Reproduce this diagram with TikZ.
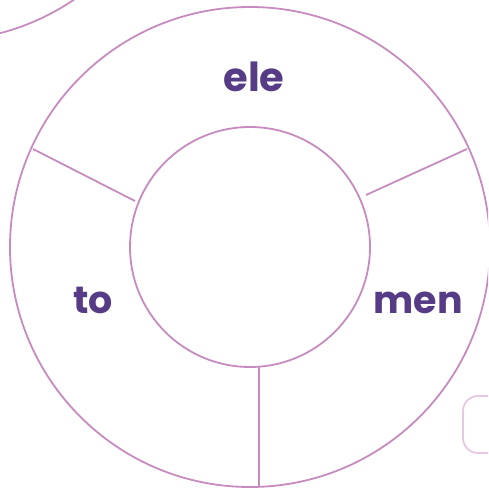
\documentclass[tikz,border=0pt]{standalone}
\usepackage{fontspec}
\setsansfont{Poppins}
\definecolor{ringpink}{RGB}{199,139,191}
\definecolor{lightpink}{RGB}{230,200,226}
\definecolor{wordpurple}{RGB}{86,59,134}
\begin{document}
\begin{tikzpicture}[x = 1pt, y = -1pt, line width = 1.8pt, draw = ringpink,
  word/.style = {anchor = base, text = wordpurple, font = \sffamily\bfseries}]
\useasboundingbox (0,0) rectangle (488,489);
\clip (0,0) rectangle (488,489);
% neighbouring pieces
\draw (-61,-200) circle (241);
\draw[lightpink, rounded corners = 15pt] (463,396) rectangle (530,453);
% ring
\coordinate (c) at (250,247);
\draw (c) circle (240);
\draw (c) circle (120);
\draw (33,149) -- (135,201);
\draw (366,195) -- (467,149);
\draw (259,366) -- (259,487);
% syllables
\node[word, font = \sffamily\bfseries\fontsize{40}{40}\selectfont] (ele) at (254,92) {ele};
\node[word, font = \sffamily\bfseries\fontsize{38}{38}\selectfont] (to) at (93,313) {to};
\node[word, font = \sffamily\bfseries\fontsize{38}{38}\selectfont] (men) at (418,313) {men};
\end{tikzpicture}
\end{document}
